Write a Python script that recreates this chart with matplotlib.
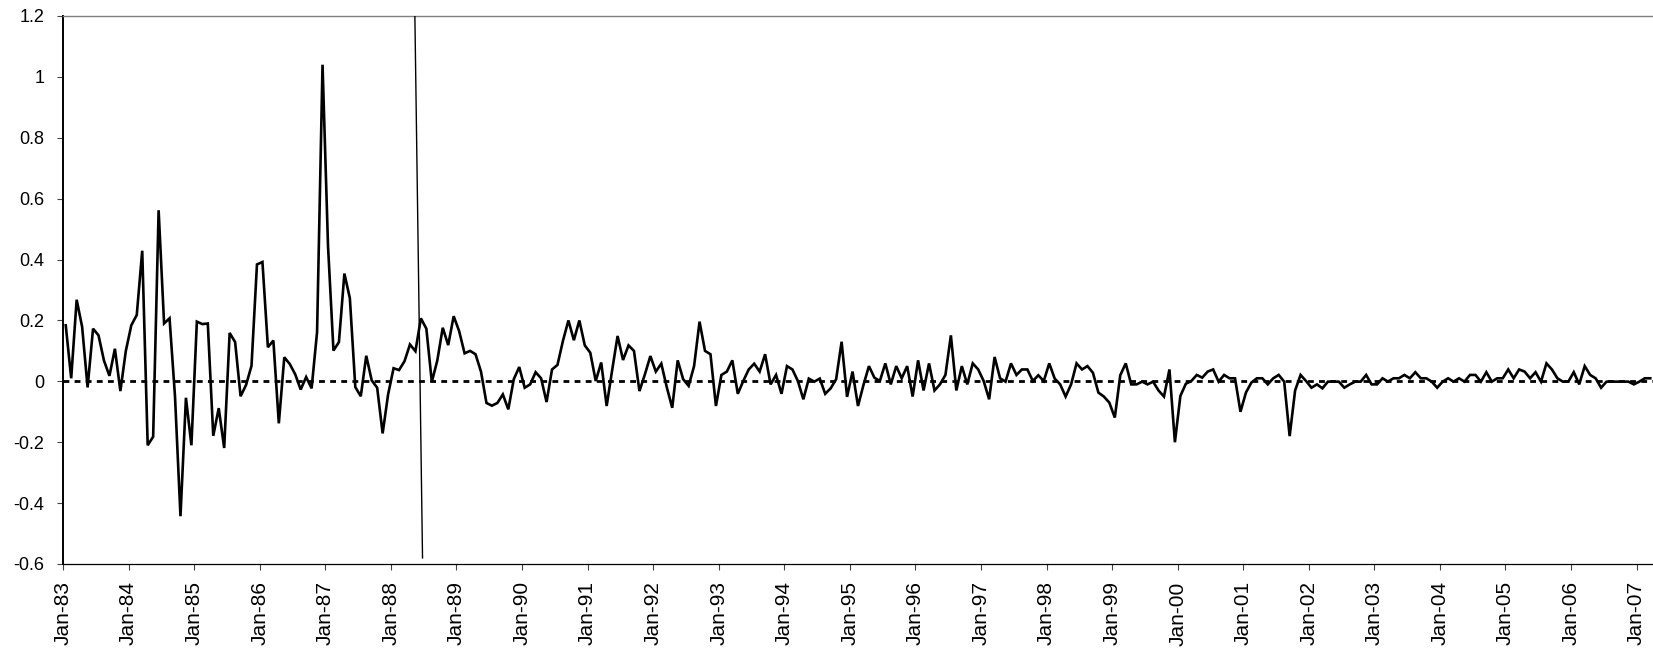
import numpy as np
import matplotlib
matplotlib.use("Agg")
import matplotlib.pyplot as plt

plt.rcParams['font.family'] = ['Liberation Sans', 'DejaVu Sans']

# Monthly values, Jan-83 .. Mar-07
values_1983_1988 = [
    0.184, 0.010, 0.268, 0.179, -0.020, 0.173, 0.151, 0.068, 0.018, 0.107, -0.032, 0.100,
    0.184, 0.218, 0.429, -0.210, -0.182, 0.562, 0.190, 0.207, -0.050, -0.443, -0.054, -0.210,
    0.196, 0.188, 0.190, -0.179, -0.088, -0.219, 0.159, 0.129, -0.049, -0.012, 0.051, 0.384,
    0.392, 0.112, 0.134, -0.138, 0.079, 0.057, 0.023, -0.027, 0.014, -0.023, 0.162, 1.040,
    0.446, 0.101, 0.129, 0.354, 0.273, -0.019, -0.049, 0.084, 0.003, -0.021, -0.171, -0.043,
    0.043, 0.037, 0.066, 0.121, 0.099, 0.207, 0.173, -0.002, 0.068, 0.176, 0.119, 0.214,
]
values_1989_1994 = [
    0.165, 0.092, 0.100, 0.089, 0.032, -0.071, -0.080, -0.071, -0.043, -0.092, 0.007, 0.047,
    -0.021, -0.010, 0.030, 0.010, -0.068, 0.039, 0.054, 0.133, 0.200, 0.135, 0.200, 0.118,
    0.094, 0.001, 0.062, -0.081, 0.036, 0.149, 0.070, 0.118, 0.100, -0.032, 0.023, 0.083,
    0.032, 0.058, -0.019, -0.087, 0.069, 0.007, -0.015, 0.050, 0.196, 0.100, 0.089, -0.081,
    0.021, 0.032, 0.069, -0.041, 0.001, 0.039, 0.058, 0.032, 0.089, -0.010, 0.021, -0.041,
    0.050, 0.039, 0.001, -0.059, 0.009, -0.001, 0.009, -0.041, -0.023, 0.007, 0.130, -0.051,
]
values_1995_2000 = [
    0.032, -0.081, -0.012, 0.050, 0.012, 0.001, 0.059, -0.010, 0.050, 0.010, 0.050, -0.050,
    0.069, -0.030, 0.059, -0.030, -0.010, 0.021, 0.151, -0.030, 0.050, -0.010, 0.059, 0.039,
    0.001, -0.059, 0.080, 0.010, -0.001, 0.059, 0.021, 0.039, 0.039, 0.001, 0.020, 0.001,
    0.059, 0.009, -0.010, -0.050, -0.010, 0.059, 0.039, 0.050, 0.028, -0.037, -0.050, -0.070,
    -0.119, 0.020, 0.059, -0.010, -0.010, -0.001, -0.010, -0.001, -0.030, -0.050, 0.039, -0.200,
    -0.048, -0.008, 0.001, 0.021, 0.012, 0.032, 0.039, -0.001, 0.021, 0.010, 0.010, -0.100,
]
values_2001_2007 = [
    -0.037, -0.004, 0.010, 0.010, -0.010, 0.010, 0.021, -0.001, -0.180, -0.030, 0.021, 0.001,
    -0.021, -0.010, -0.023, -0.001, -0.001, -0.001, -0.021, -0.010, -0.001, -0.001, 0.021, -0.010,
    -0.010, 0.010, -0.001, 0.010, 0.010, 0.021, 0.010, 0.030, 0.010, 0.010, -0.001, -0.021,
    -0.001, 0.010, -0.001, 0.010, -0.001, 0.021, 0.021, -0.001, 0.030, -0.001, 0.010, 0.010,
    0.039, 0.010, 0.039, 0.032, 0.010, 0.030, -0.001, 0.059, 0.039, 0.010, -0.001, -0.001,
    0.030, -0.010, 0.050, 0.021, 0.010, -0.021, -0.001, -0.001, -0.001, -0.001, -0.001, -0.010,
    -0.001, 0.010, 0.010,
]

# Thin event line (month-position, value) endpoints
event_line_x = [64.4, 65.8]
event_line_y = [1.2, -0.58]

x_tick_labels = ["Jan-83", "Jan-84", "Jan-85", "Jan-86", "Jan-87", "Jan-88", "Jan-89",
                 "Jan-90", "Jan-91", "Jan-92", "Jan-93", "Jan-94", "Jan-95", "Jan-96",
                 "Jan-97", "Jan-98", "Jan-99", "Jan-00", "Jan-01", "Jan-02", "Jan-03",
                 "Jan-04", "Jan-05", "Jan-06", "Jan-07"]
y_ticks = [-0.6, -0.4, -0.2, 0.0, 0.2, 0.4, 0.6, 0.8, 1.0, 1.2]
y_tick_labels = ["-0.6", "-0.4", "-0.2", "0", "0.2", "0.4", "0.6", "0.8", "1", "1.2"]

series = np.array(values_1983_1988 + values_1989_1994 + values_1995_2000 + values_2001_2007)
months = np.arange(len(series)) + 0.5

fig = plt.figure(figsize=(16.53, 6.52), dpi=100)
ax = fig.add_axes([63 / 1653, 88 / 652, 1590 / 1653, 548 / 652])

ax.axhline(0, color="black", lw=2.0, dashes=(2.1, 1.9), zorder=2)
ax.plot(months, series, color="black", lw=1.9, zorder=3, solid_joinstyle="miter")
ax.plot(event_line_x, event_line_y, color="black", lw=1.0, zorder=4)

ax.set_xlim(0, 291)
ax.set_ylim(-0.6, 1.2)
ax.set_xticks(np.arange(len(x_tick_labels)) * 12)
ax.set_xticklabels(x_tick_labels, rotation=90, fontsize=15)
ax.set_yticks(y_ticks)
ax.set_yticklabels(y_tick_labels, fontsize=13)

ax.tick_params(axis="x", direction="out", length=4, width=0.8, pad=8.5, color="#444444")
ax.tick_params(axis="y", direction="out", length=4.5, width=0.8, pad=9, color="#444444")

ax.spines["right"].set_visible(False)
ax.spines["top"].set_color("#808080")
ax.spines["top"].set_linewidth(1.0)
ax.spines["left"].set_color("black")
ax.spines["left"].set_linewidth(1.4)
ax.spines["bottom"].set_color("black")
ax.spines["bottom"].set_linewidth(0.9)

fig.savefig("out.png", dpi=100)
